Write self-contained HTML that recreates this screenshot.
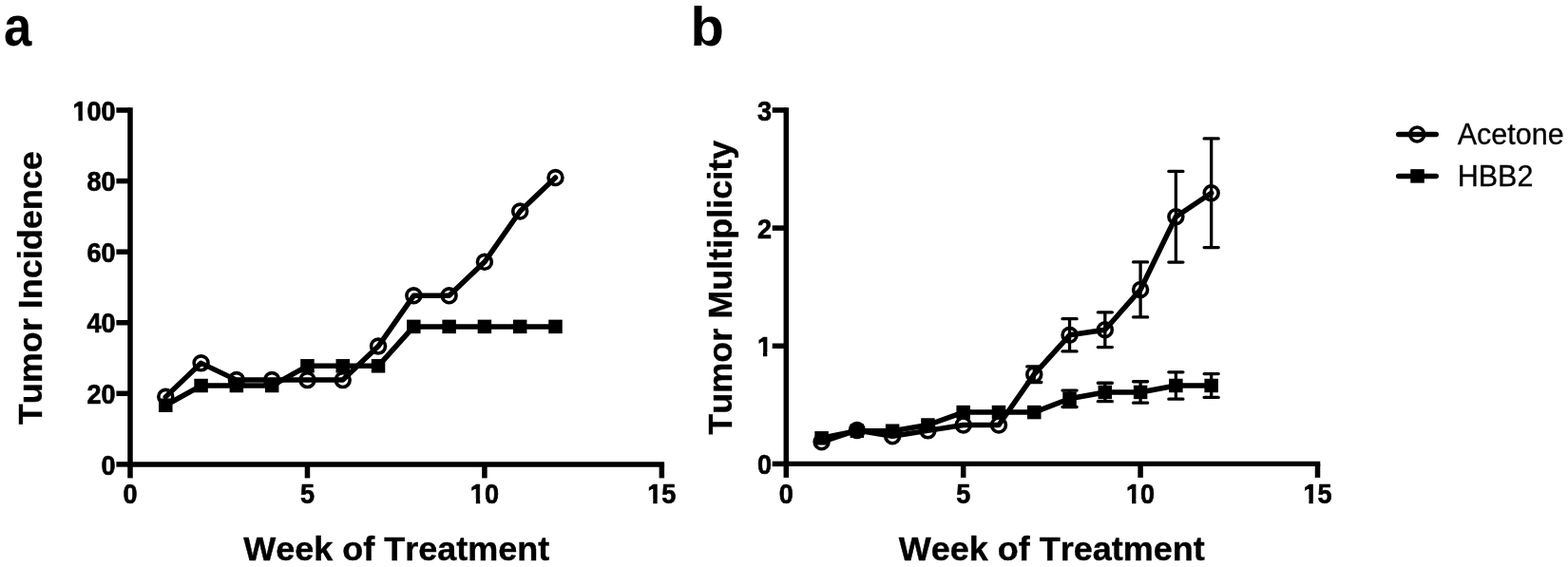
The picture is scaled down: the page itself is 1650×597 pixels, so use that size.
<!DOCTYPE html>
<html lang="en">
<head>
<meta charset="utf-8">
<title>Tumor incidence and multiplicity by week of treatment</title>
<style>
html,body{margin:0;padding:0;background:#fff;}
body{width:1650px;height:597px;overflow:hidden;}
svg{display:block;}
text{font-family:"Liberation Sans",Arial,Helvetica,sans-serif;fill:#000;font-kerning:none;}
.pl{font-weight:700;font-size:58px;}
.tk{font-weight:700;font-size:27.1px;stroke:#000;stroke-width:0.6px;stroke-linejoin:round;}
.ti{font-weight:700;font-size:36px;stroke:#000;stroke-width:0.4px;stroke-linejoin:round;}
.lg{font-weight:400;font-size:30.5px;stroke:#000;stroke-width:0.3px;stroke-linejoin:round;}
</style>
</head>
<body>
<svg width="1650" height="597" viewBox="0 0 1650 597">
<rect width="1650" height="597" fill="#fff"/>
<defs><clipPath id="c0"><path clip-rule="evenodd" d="M-65.20 -40H20.00V20H-65.20ZM-48.20 -3.76H-39.19V3H-48.20ZM-34.85 -3.76H-29.89V3H-34.85Z"/></clipPath><clipPath id="c1"><path clip-rule="evenodd" d="M-35.07 -40H35.07V20H-35.07ZM-18.07 -3.76H-9.05V3H-18.07ZM-4.71 -3.76H0.24V3H-4.71Z"/></clipPath><clipPath id="c2"><path clip-rule="evenodd" d="M-35.07 -40H20.00V20H-35.07ZM-18.07 -3.76H-9.05V3H-18.07ZM-4.71 -3.76H0.24V3H-4.71Z"/></clipPath></defs>
<text class="pl" transform="translate(4.00 47.90) scale(0.91 1.025)">a</text>
<text class="pl" transform="translate(726.50 48.10)">b</text>
<g id="panel-a">
<g stroke="#000" stroke-width="5.5" fill="none" stroke-linecap="butt">
<path d="M137.00 113.25V491.65"/>
<path d="M122.40 488.90H137.00"/>
<path d="M122.40 414.32H137.00"/>
<path d="M122.40 339.74H137.00"/>
<path d="M122.40 265.16H137.00"/>
<path d="M122.40 190.58H137.00"/>
<path d="M122.40 116.00H137.00"/>
<path d="M137.00 488.90V503.40"/>
<path d="M323.45 488.90V503.40"/>
<path d="M509.90 488.90V503.40"/>
<path d="M696.35 488.90V503.40"/>
</g>
<path d="M134.25 488.90H699.10" stroke="#000" stroke-width="5.5" fill="none"/>
<text class="tk" text-anchor="end" transform="translate(121.70 499.60) scale(1.0 1.065)">0</text>
<text class="tk" text-anchor="end" transform="translate(121.70 425.02) scale(1.0 1.065)">20</text>
<text class="tk" text-anchor="end" transform="translate(121.70 350.44) scale(1.0 1.065)">40</text>
<text class="tk" text-anchor="end" transform="translate(121.70 275.86) scale(1.0 1.065)">60</text>
<text class="tk" text-anchor="end" transform="translate(121.70 201.28) scale(1.0 1.065)">80</text>
<g transform="translate(121.70 126.70) scale(1.0 1.065)" clip-path="url(#c0)"><text class="tk" text-anchor="end">100</text></g>
<text class="tk" text-anchor="middle" transform="translate(137.00 529.70) scale(1.0 1.065)">0</text>
<text class="tk" text-anchor="middle" transform="translate(323.45 529.70) scale(1.0 1.065)">5</text>
<g transform="translate(509.90 529.70) scale(1.0 1.065)" clip-path="url(#c1)"><text class="tk" text-anchor="middle">10</text></g>
<g transform="translate(696.35 529.70) scale(1.0 1.065)" clip-path="url(#c1)"><text class="tk" text-anchor="middle">15</text></g>
<text class="ti" text-anchor="middle" transform="translate(417.20 589.50) scale(1.0 0.985)">Week of Treatment</text>
<text class="ti" text-anchor="middle" transform="translate(44.30 303.30) rotate(-90) scale(1.0 0.985)">Tumor Incidence</text>
<polyline points="174.29,417.87 211.58,382.36 248.87,400.11 286.16,400.11 323.45,400.11 360.74,400.11 398.03,364.60 435.32,311.33 472.61,311.33 509.90,275.81 547.19,222.54 584.48,187.03" fill="none" stroke="#000" stroke-width="5.5" stroke-linejoin="round" stroke-linecap="round"/>
<g fill="none" stroke="#000" stroke-width="3.6">
<circle cx="174.29" cy="417.87" r="7.45"/>
<circle cx="211.58" cy="382.36" r="7.45"/>
<circle cx="248.87" cy="400.11" r="7.45"/>
<circle cx="286.16" cy="400.11" r="7.45"/>
<circle cx="323.45" cy="400.11" r="7.45"/>
<circle cx="360.74" cy="400.11" r="7.45"/>
<circle cx="398.03" cy="364.60" r="7.45"/>
<circle cx="435.32" cy="311.33" r="7.45"/>
<circle cx="472.61" cy="311.33" r="7.45"/>
<circle cx="509.90" cy="275.81" r="7.45"/>
<circle cx="547.19" cy="222.54" r="7.45"/>
<circle cx="584.48" cy="187.03" r="7.45"/>
</g>
<polyline points="174.29,426.75 211.58,406.03 248.87,406.03 286.16,406.03 323.45,385.32 360.74,385.32 398.03,385.32 435.32,343.88 472.61,343.88 509.90,343.88 547.19,343.88 584.48,343.88" fill="none" stroke="#000" stroke-width="5.5" stroke-linejoin="round" stroke-linecap="round"/>
<g fill="#000">
<rect x="167.04" y="419.50" width="14.5" height="14.5"/>
<rect x="204.33" y="398.78" width="14.5" height="14.5"/>
<rect x="241.62" y="398.78" width="14.5" height="14.5"/>
<rect x="278.91" y="398.78" width="14.5" height="14.5"/>
<rect x="316.20" y="378.07" width="14.5" height="14.5"/>
<rect x="353.49" y="378.07" width="14.5" height="14.5"/>
<rect x="390.78" y="378.07" width="14.5" height="14.5"/>
<rect x="428.07" y="336.63" width="14.5" height="14.5"/>
<rect x="465.36" y="336.63" width="14.5" height="14.5"/>
<rect x="502.65" y="336.63" width="14.5" height="14.5"/>
<rect x="539.94" y="336.63" width="14.5" height="14.5"/>
<rect x="577.23" y="336.63" width="14.5" height="14.5"/>
</g>
</g>
<g id="panel-b">
<g stroke="#000" stroke-width="5.5" fill="none" stroke-linecap="butt">
<path d="M827.30 113.20V491.10"/>
<path d="M812.70 488.40H827.30"/>
<path d="M812.70 364.25H827.30"/>
<path d="M812.70 240.10H827.30"/>
<path d="M812.70 115.95H827.30"/>
<path d="M827.30 488.40V502.90"/>
<path d="M1013.70 488.40V502.90"/>
<path d="M1200.10 488.40V502.90"/>
<path d="M1386.50 488.40V502.90"/>
</g>
<path d="M824.55 488.40H1389.25" stroke="#000" stroke-width="5.4" fill="none"/>
<text class="tk" text-anchor="end" transform="translate(812.00 499.10) scale(1.0 1.065)">0</text>
<g transform="translate(812.00 374.95) scale(1.0 1.065)" clip-path="url(#c2)"><text class="tk" text-anchor="end">1</text></g>
<text class="tk" text-anchor="end" transform="translate(812.00 250.80) scale(1.0 1.065)">2</text>
<text class="tk" text-anchor="end" transform="translate(812.00 126.65) scale(1.0 1.065)">3</text>
<text class="tk" text-anchor="middle" transform="translate(827.30 529.70) scale(1.0 1.065)">0</text>
<text class="tk" text-anchor="middle" transform="translate(1013.70 529.70) scale(1.0 1.065)">5</text>
<g transform="translate(1200.10 529.70) scale(1.0 1.065)" clip-path="url(#c1)"><text class="tk" text-anchor="middle">10</text></g>
<g transform="translate(1386.50 529.70) scale(1.0 1.065)" clip-path="url(#c1)"><text class="tk" text-anchor="middle">15</text></g>
<text class="ti" text-anchor="middle" transform="translate(1106.80 589.50) scale(1.0 0.985)">Week of Treatment</text>
<text class="ti" text-anchor="middle" transform="translate(770.40 302.70) rotate(-90) scale(1.0 0.985)">Tumor Multiplicity</text>
<g stroke="#000" stroke-width="3.3" fill="none" stroke-linecap="round">
<path d="M1088.26 385.88V402.48M1080.71 385.88h15.10M1080.71 402.48h15.10"/>
<path d="M1125.54 335.64V369.94M1117.99 335.64h15.10M1117.99 369.94h15.10"/>
<path d="M1162.82 328.80V365.60M1155.27 328.80h15.10M1155.27 365.60h15.10"/>
<path d="M1200.10 275.94V333.94M1192.55 275.94h15.10M1192.55 333.94h15.10"/>
<path d="M1237.38 180.44V276.04M1229.83 180.44h15.10M1229.83 276.04h15.10"/>
<path d="M1274.66 145.96V260.56M1267.11 145.96h15.10M1267.11 260.56h15.10"/>
</g>
<polyline points="864.58,465.28 901.86,452.98 939.14,459.32 976.42,453.35 1013.70,447.51 1050.98,447.51 1088.26,394.18 1125.54,352.79 1162.82,347.20 1200.10,304.94 1237.38,228.24 1274.66,203.26" fill="none" stroke="#000" stroke-width="5.5" stroke-linejoin="round" stroke-linecap="round"/>
<g fill="none" stroke="#000" stroke-width="3.6">
<circle cx="864.58" cy="465.28" r="7.45"/>
<circle cx="901.86" cy="452.98" r="7.45"/>
<circle cx="939.14" cy="459.32" r="7.45"/>
<circle cx="976.42" cy="453.35" r="7.45"/>
<circle cx="1013.70" cy="447.51" r="7.45"/>
<circle cx="1050.98" cy="447.51" r="7.45"/>
<circle cx="1088.26" cy="394.18" r="7.45"/>
<circle cx="1125.54" cy="352.79" r="7.45"/>
<circle cx="1162.82" cy="347.20" r="7.45"/>
<circle cx="1200.10" cy="304.94" r="7.45"/>
<circle cx="1237.38" cy="228.24" r="7.45"/>
<circle cx="1274.66" cy="203.26" r="7.45"/>
</g>
<g stroke="#000" stroke-width="3.3" fill="none" stroke-linecap="round">
<path d="M1125.54 411.09V428.49M1117.99 411.09h15.10M1117.99 428.49h15.10"/>
<path d="M1162.82 403.25V422.65M1155.27 403.25h15.10M1155.27 422.65h15.10"/>
<path d="M1200.10 401.75V424.15M1192.55 401.75h15.10M1192.55 424.15h15.10"/>
<path d="M1237.38 391.84V420.14M1229.83 391.84h15.10M1229.83 420.14h15.10"/>
<path d="M1274.66 393.54V418.44M1267.11 393.54h15.10M1267.11 418.44h15.10"/>
</g>
<polyline points="864.58,461.31 901.86,453.72 939.14,453.72 976.42,447.51 1013.70,434.08 1050.98,434.08 1088.26,434.08 1125.54,419.79 1162.82,412.95 1200.10,412.95 1237.38,405.99 1274.66,405.99" fill="none" stroke="#000" stroke-width="5.5" stroke-linejoin="round" stroke-linecap="round"/>
<g fill="#000">
<rect x="857.33" y="454.06" width="14.5" height="14.5"/>
<rect x="894.61" y="446.47" width="14.5" height="14.5"/>
<rect x="931.89" y="446.47" width="14.5" height="14.5"/>
<rect x="969.17" y="440.26" width="14.5" height="14.5"/>
<rect x="1006.45" y="426.83" width="14.5" height="14.5"/>
<rect x="1043.73" y="426.83" width="14.5" height="14.5"/>
<rect x="1081.01" y="426.83" width="14.5" height="14.5"/>
<rect x="1118.29" y="412.54" width="14.5" height="14.5"/>
<rect x="1155.57" y="405.70" width="14.5" height="14.5"/>
<rect x="1192.85" y="405.70" width="14.5" height="14.5"/>
<rect x="1230.13" y="398.74" width="14.5" height="14.5"/>
<rect x="1267.41" y="398.74" width="14.5" height="14.5"/>
</g>
</g>
<g id="legend">
<g stroke="#000" fill="none" stroke-width="5.5" stroke-linecap="round">
<path d="M1471.7 141.5H1511.2"/><path d="M1471.7 185.4H1511.2"/></g>
<circle cx="1491.2" cy="141.5" r="7.45" fill="none" stroke="#000" stroke-width="3.6"/>
<rect x="1484.25" y="178.15" width="14.5" height="14.5" fill="#000"/>
<text class="lg" transform="translate(1533.70 151.90)">Acetone</text>
<text class="lg" transform="translate(1533.70 195.80)">HBB2</text>
</g>
</svg>
</body>
</html>
